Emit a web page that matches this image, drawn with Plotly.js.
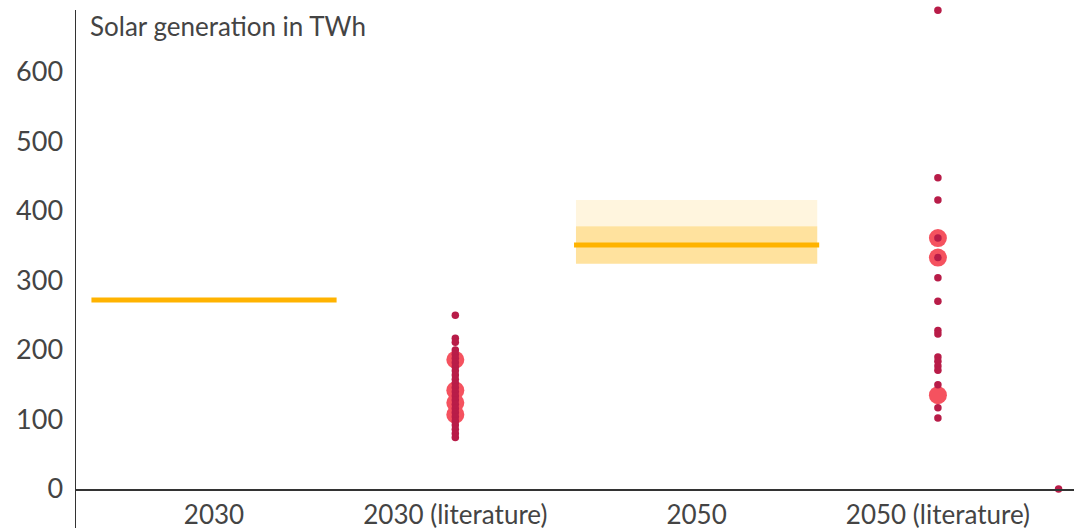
<!DOCTYPE html>
<html>
<head>
<meta charset="utf-8">
<script src="https://cdn.plot.ly/plotly-3.0.1.min.js"></script>
<style>
  html, body { margin: 0; padding: 0; background: #fff; }
  #chart { width: 1074px; height: 528px; }
</style>
</head>
<body>
<div id="chart"></div>
<script>
// ---- Data ----
const categories = ["2030", "2030 (literature)", "2050", "2050 (literature)"];
const titleText = "Solar generation in TWh";
const yTickValues = [0, 100, 200, 300, 400, 500, 600];

// Model results (horizontal lines)
const modelCategoryIndex = [0, 2];
const modelValues = [272, 351];

// 2050 range bands
const bandCategoryIndex = [2];
const bandLow = [324];
const bandMid = [378];
const bandHigh = [416];

// Literature values (small dots)
const lit2030Small = [250, 217, 211, 200, 194, 188, 182, 176, 170, 164, 158, 152, 146, 140, 134, 128, 122, 116, 110, 104, 98, 92, 86, 80, 74];
const lit2050Small = [689, 448, 416, 361, 333, 304, 270, 228, 223, 190, 184, 177, 171, 150, 117, 102];
// Highlighted literature values (big circles)
const lit2030Big = [186, 142, 124, 107];
const lit2050Big = [361, 333, 135];
// Stray point
const extraX = [3.5];
const extraY = [0];

// ---- Styles ----
const lineColor = "#FFB300";
const bandDark = "#FFE29E";
const bandLight = "#FFF5DE";
const dotColor = "#B81C48";
const bigColor = "#F5525F";
const textColor = "#444444";
const axisColor = "#333333";
const halfWidth = 0.5;

const traces = [];

// bands
bandCategoryIndex.forEach((ci, i) => {
  traces.push({
    type: "bar", x: [ci], base: [bandMid[i]], y: [bandHigh[i] - bandMid[i]],
    width: 2 * halfWidth, marker: { color: bandLight, line: { width: 0 } },
    hoverinfo: "skip", showlegend: false
  });
  traces.push({
    type: "bar", x: [ci], base: [bandLow[i]], y: [bandMid[i] - bandLow[i]],
    width: 2 * halfWidth, marker: { color: bandDark, line: { width: 0 } },
    hoverinfo: "skip", showlegend: false
  });
});

// model lines
modelCategoryIndex.forEach((ci, i) => {
  traces.push({
    type: "scatter", mode: "lines",
    x: [ci - halfWidth - 0.008, ci + halfWidth + 0.008], y: [modelValues[i], modelValues[i]],
    line: { color: lineColor, width: 5 }, hoverinfo: "skip", showlegend: false,
    cliponaxis: false
  });
});

// big circles
traces.push({
  type: "scatter", mode: "markers",
  x: lit2030Big.map(() => 1).concat(lit2050Big.map(() => 3)),
  y: lit2030Big.concat(lit2050Big),
  marker: { color: bigColor, size: 18, line: { width: 0 } },
  showlegend: false, cliponaxis: false
});

// small dots
traces.push({
  type: "scatter", mode: "markers",
  x: lit2030Small.map(() => 1).concat(lit2050Small.map(() => 3)).concat(extraX),
  y: lit2030Small.concat(lit2050Small).concat(extraY),
  marker: { color: dotColor, size: 7.5, line: { width: 0 } },
  showlegend: false, cliponaxis: false
});

const layout = {
  width: 1074, height: 528,
  margin: { l: 76, r: 0, t: 10, b: 0, pad: 0 },
  paper_bgcolor: "#fff", plot_bgcolor: "#fff",
  font: { family: "Lato, 'Open Sans', sans-serif", color: textColor },
  barmode: "overlay",
  title: {
    text: titleText,
    font: { family: "Lato, sans-serif", size: 26, color: textColor },
    xref: "paper", x: 14 / 998, xanchor: "left",
    yref: "container", y: 1 - 27 / 528, yanchor: "middle"
  },
  xaxis: {
    range: [-0.572, 3.564],
    anchor: "free", position: 39 / 518,
    showline: true, linecolor: axisColor, linewidth: 1.5,
    showgrid: false, zeroline: false,
    tickvals: categories.map((c, i) => i), ticktext: categories,
    ticks: "", ticklabelstandoff: 2,
    tickfont: { size: 26, color: textColor }
  },
  yaxis: {
    range: [-56.1, 689.2],
    showline: true, linecolor: axisColor, linewidth: 1.5,
    showgrid: false, zeroline: false,
    tickvals: yTickValues, ticks: "", ticklabelstandoff: 6,
    tickfont: { size: 27, color: textColor }
  },
  showlegend: false,
  hovermode: false
};

Plotly.newPlot("chart", traces, layout, { displayModeBar: false, staticPlot: true });
</script>
</body>
</html>
